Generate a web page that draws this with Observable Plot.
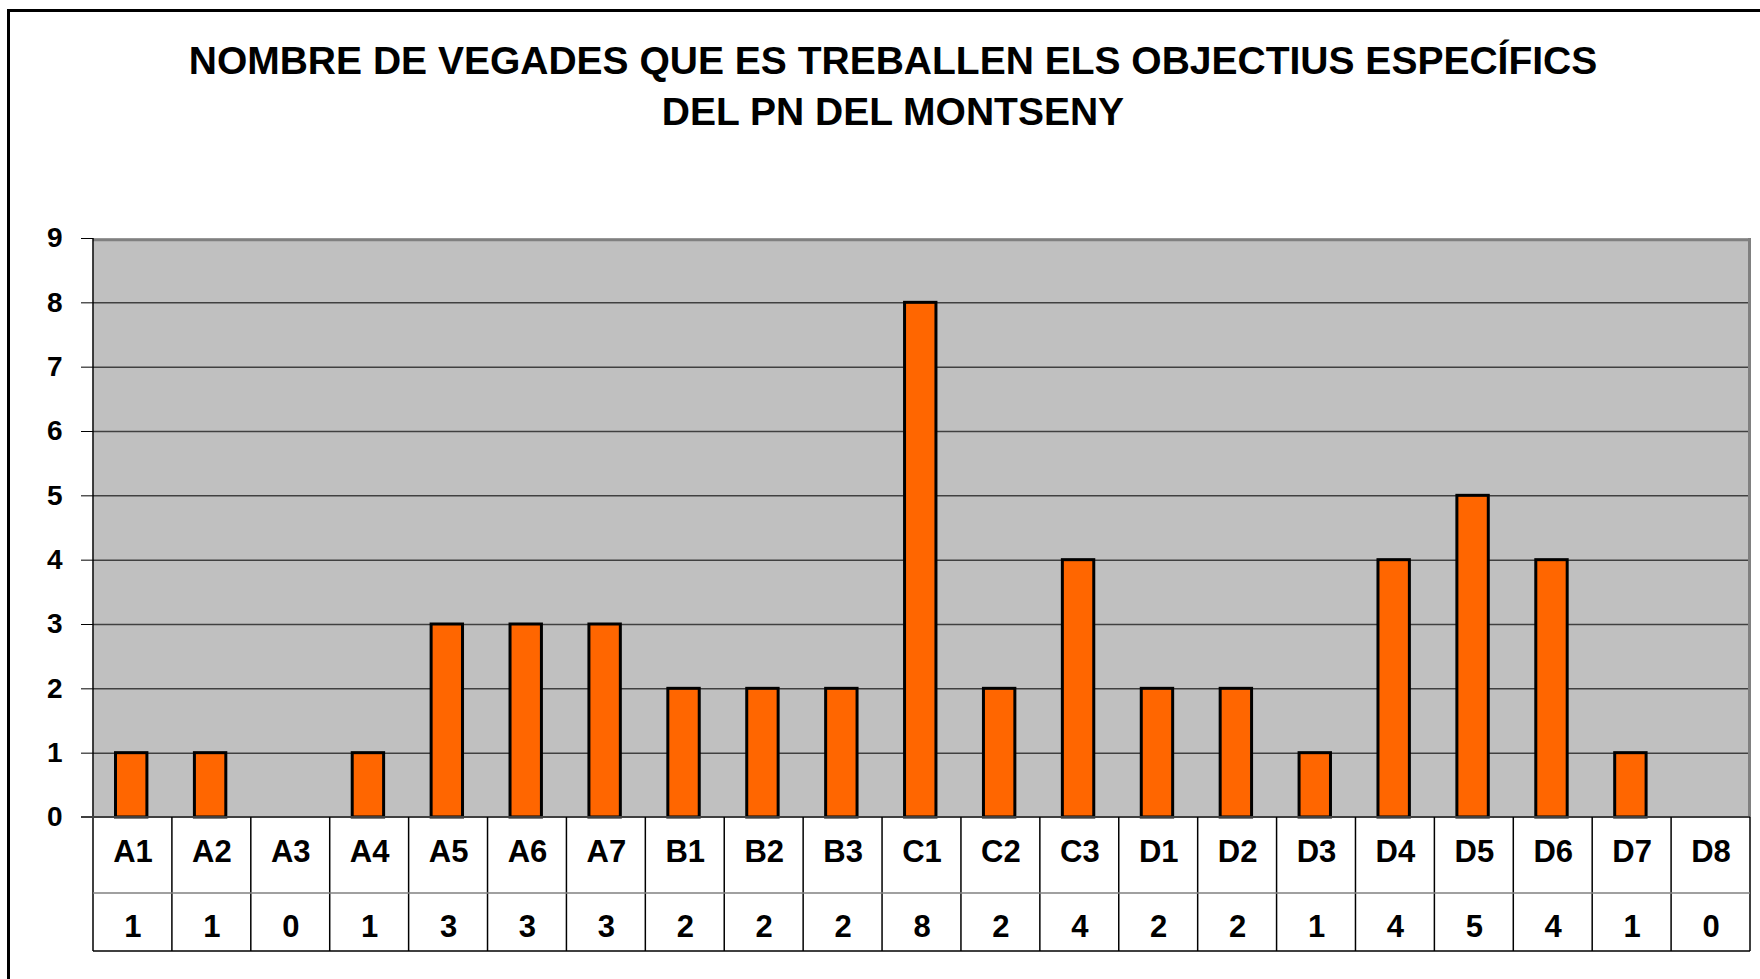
<!DOCTYPE html>
<html><head><meta charset="utf-8">
<script src="https://cdn.jsdelivr.net/npm/d3@7"></script>
<script src="https://cdn.jsdelivr.net/npm/@observablehq/plot@0.6"></script>
<style>
html,body{margin:0;padding:0;background:#fff;}
#wrap{position:relative;width:1760px;height:979px;overflow:hidden;font-family:"Liberation Sans",Arial,sans-serif;}
#frame{position:absolute;left:7px;top:9px;width:1800px;height:1000px;border-left:3.5px solid #000;border-top:3.5px solid #000;}
.t{position:absolute;left:0;width:1786px;text-align:center;font-weight:bold;font-size:39px;line-height:51px;color:#000;white-space:nowrap;}
#chart{position:absolute;left:0;top:0;}
</style></head><body>
<div id="wrap"><div id="frame"></div><div id="chart"></div></div>
<script>
const titleLines = ["NOMBRE DE VEGADES QUE ES TREBALLEN ELS OBJECTIUS ESPECÍFICS", "DEL PN DEL MONTSENY"];
const categories = ["A1","A2","A3","A4","A5","A6","A7","B1","B2","B3","C1","C2","C3","D1","D2","D3","D4","D5","D6","D7","D8"];
const values = [1,1,0,1,3,3,3,2,2,2,8,2,4,2,2,1,4,5,4,1,0];
const yTicks = [0,1,2,3,4,5,6,7,8,9];

const wrap = document.getElementById("wrap");
titleLines.forEach((t, i) => {
  const d = document.createElement("div");
  d.className = "t";
  d.style.top = (35 + i * 51) + "px";
  d.textContent = t;
  wrap.appendChild(d);
});

const data = categories.map((c, i) => ({cat: c, value: values[i]}));
const narrow = "'Liberation Sans Narrow', 'Arial Narrow', 'Liberation Sans', Arial, sans-serif";

const plot = Plot.plot({
  width: 1760, height: 979,
  marginLeft: 93, marginRight: 10, marginTop: 238, marginBottom: 162,
  style: {fontFamily: narrow, fontWeight: "bold", color: "#000", background: "transparent", overflow: "visible"},
  x: {domain: categories, padding: 0, round: false, axis: null},
  y: {domain: [0, 9], axis: null},
  marks: [
    Plot.frame({fill: "#C0C0C0"}),
    Plot.ruleY(yTicks.filter(t => t > 0 && t < 9), {stroke: "#404040", strokeWidth: 1.5}),
    Plot.barY(data.filter(d => d.value > 0), {x: "cat", y: "value", fill: "#FF6600", stroke: "#000", strokeWidth: 3, insetLeft: 22.5, insetRight: 25}),
    Plot.axisY(yTicks, {tickSize: 12, tickPadding: 19, fontSize: 28, tickFormat: d => String(d), label: null}),
    Plot.axisX(categories, {tickSize: 0, tickPadding: 22, fontSize: 31, label: null}),
    Plot.text(data, {x: "cat", text: d => String(d.value), frameAnchor: "bottom", dy: 119, fontSize: 31})
  ]
});
document.getElementById("chart").appendChild(plot);

// Edges and the data table grid, positioned from the plot's own scales
const svg = d3.select(plot);
const xs = plot.scale("x"), ys = plot.scale("y");
const [xL, xR] = xs.range;
const bw = xs.bandwidth;
const y0 = ys.apply(0), yTop = ys.apply(9);
const row1 = y0 + 76, row2 = y0 + 134;
const g = svg.append("g").attr("fill", "none");
const line = (x1, y1, x2, y2, stroke, w) => g.append("line")
  .attr("x1", x1).attr("y1", y1).attr("x2", x2).attr("y2", y2)
  .attr("stroke", stroke).attr("stroke-width", w);
// top border of plot area
line(xL, yTop + 0.5, xR + 1, yTop + 0.5, "#A0A0A0", 1);
line(xL, yTop + 2, xR, yTop + 2, "#808080", 2.5);
// right shadow edge
line(xR - 0.5, yTop, xR - 0.5, y0, "#808080", 3);
// left axis line
line(xL, yTop, xL, row2, "#000", 1.5);
// category axis line
line(xL - 12, y0, xR, y0, "#404040", 2);
// table
categories.forEach(c => {
  const xe = xs.apply(c) + bw;
  line(xe, y0, xe, row2, "#000", 1.5);
});
line(xL, row1, xR, row1, "#808080", 1.5);
line(xL, row2, xR, row2, "#000", 1.5);
</script>
</body></html>
